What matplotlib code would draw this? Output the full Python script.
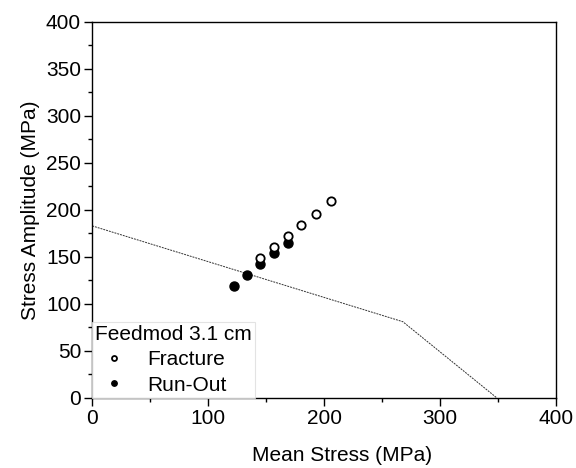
import numpy as np
import matplotlib.pyplot as plt
from matplotlib.ticker import MultipleLocator

plt.rcParams['font.family'] = ['Liberation Sans', 'DejaVu Sans']

# Fracture points (open circles)
frac_mean = [145, 157, 169, 180, 193, 206]
frac_amp = [149, 161, 172, 184, 196, 209]

# Run-out points (filled circles)
run_mean = [122, 134, 145, 157, 169]
run_amp = [119, 131, 142, 154, 165]

# Goodman-type limit line
limit_mean = [0, 268, 349]
limit_amp = [183, 81, 0]

fig = plt.figure(figsize=(5.76, 4.68), dpi=100)
ax = fig.add_axes([0.16, 0.15, 0.805, 0.803])

ax.plot(limit_mean, limit_amp, color='#333333', linewidth=0.7,
        linestyle=(0, (2, 1)), zorder=1)
ax.plot(frac_mean, frac_amp, 'o', markersize=6, markerfacecolor='white',
        markeredgecolor='black', markeredgewidth=1.3, label='Fracture', zorder=3)
ax.plot(run_mean, run_amp, 'o', markersize=6.5, color='black',
        label='Run-Out', zorder=2)

ax.set_xlim(0, 400)
ax.set_ylim(0, 400)
ax.xaxis.set_major_locator(MultipleLocator(100))
ax.xaxis.set_minor_locator(MultipleLocator(50))
ax.yaxis.set_major_locator(MultipleLocator(50))
ax.yaxis.set_minor_locator(MultipleLocator(25))
ax.tick_params(which='major', direction='out', length=6, width=1,
               labelsize=15, pad=2)
ax.tick_params(which='minor', direction='out', length=3, width=1)
for s in ax.spines.values():
    s.set_linewidth(1)

ax.set_xlabel('Mean Stress (MPa)', fontsize=15)
ax.xaxis.set_label_coords(0.539, -0.128)
ax.set_ylabel('Stress Amplitude (MPa)', fontsize=15, labelpad=4)

leg = ax.legend(title='Feedmod 3.1 cm', loc='lower left', fontsize=15,
                title_fontsize=15, frameon=True, fancybox=False,
                edgecolor='#dddddd', borderaxespad=0, borderpad=0.15,
                markerscale=0.6, handletextpad=0.7, labelspacing=0.3,
                handlelength=1.8)
leg._legend_box.align = 'left'
leg.get_frame().set_linewidth(0.8)

plt.savefig('out.png', dpi=100)
